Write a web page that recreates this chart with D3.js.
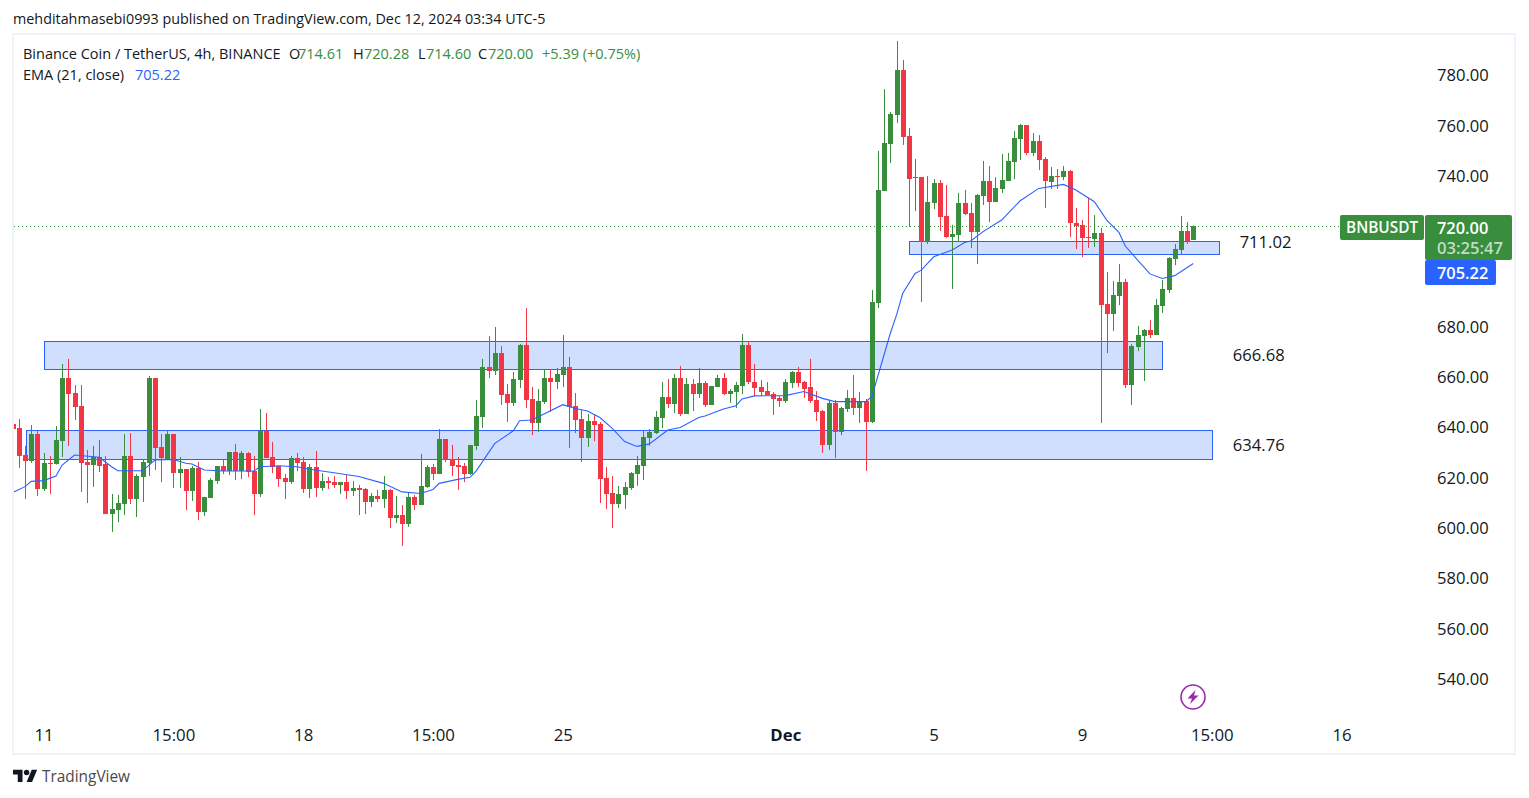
<!DOCTYPE html>
<html>
<head>
<meta charset="utf-8">
<script src="https://cdn.jsdelivr.net/npm/d3@7"></script>
<style>
  html, body { margin: 0; padding: 0; background: #fff; overflow: hidden; }
  text { font-family: "Open Sans", sans-serif; }
</style>
</head>
<body>
<svg id="chart" width="1529" height="798"></svg>
<script>
// candles, oldest first, 4h bars
const opens = [
  641.4,639.8,629.1,626.7,637.4,615.6,625.9,625.5,634.7,659.7,653.7,648.6,
  626.3,625.1,628.3,625.5,605.6,607.2,609.6,628.7,611.6,620.3,625.9,659.7,
  632.3,627.5,637.4,621.9,623.5,614.8,623.9,606.4,612.0,618.7,624.7,622.7,
  630.3,622.7,629.9,622.7,613.6,638.6,628.3,624.7,619.9,618.3,627.9,626.3,
  615.6,624.3,616.0,618.7,618.3,617.2,618.3,614.8,616.0,615.6,610.4,612.8,
  611.6,615.2,604.0,605.2,601.6,612.4,609.2,616.4,624.3,621.5,635.4,627.5,
  625.1,624.7,621.5,632.7,644.2,664.1,662.5,669.6,653.3,649.8,658.9,672.8,
  651.4,641.8,650.2,659.7,658.1,660.9,664.1,648.6,643.4,635.8,642.6,641.4,
  619.9,614.0,609.6,613.2,616.0,621.5,624.7,635.8,637.8,643.8,652.1,649.4,
  659.7,645.4,657.3,653.3,657.7,649.0,656.1,659.7,653.3,654.1,656.5,672.8,
  658.1,656.1,654.5,653.3,651.8,650.6,657.7,662.1,658.1,656.1,651.0,646.6,
  633.1,649.8,638.2,647.4,651.8,647.8,650.6,642.2,689.5,734.1,752.8,764.3,
  782.2,755.9,739.2,739.6,713.8,729.3,737.3,724.1,715.8,716.6,729.3,725.3,
  717.8,732.1,738.0,729.7,734.9,738.0,745.6,754.8,760.3,749.2,754.0,746.8,
  737.7,740.0,739.6,742.0,721.3,720.5,715.8,715.0,717.4,689.1,685.2,692.3,
  697.9,656.9,672.0,676.4,678.8,676.8,688.3,694.7,707.0,710.6,718.2,714.61
];
const highs = [
  642.6,643.4,632.7,641.0,638.6,629.9,628.7,640.6,665.3,667.3,656.9,656.9,
  631.1,632.7,635.1,628.7,613.6,613.2,637.4,637.8,621.5,627.1,660.5,659.7,
  637.4,639.0,637.4,628.3,623.5,624.7,626.3,612.4,619.9,624.7,627.1,630.3,
  633.5,630.7,630.3,628.7,647.4,645.8,634.3,624.7,621.5,628.7,629.9,628.3,
  625.5,630.7,621.9,620.3,620.7,618.3,621.1,618.7,617.2,616.0,614.0,615.2,
  620.7,615.6,612.8,609.2,614.0,613.2,629.5,625.1,625.5,639.4,635.4,633.1,
  628.3,625.9,633.1,651.0,667.3,676.4,680.0,672.4,657.3,662.1,673.2,687.5,
  656.1,655.3,663.3,663.3,663.7,676.8,668.1,653.7,647.0,645.4,645.0,642.2,
  624.3,620.7,616.8,618.3,622.3,628.7,639.0,639.4,646.6,658.1,659.3,661.3,
  664.5,659.7,659.3,663.7,658.5,656.5,660.9,661.7,655.3,658.1,677.2,674.4,
  665.3,658.9,658.1,654.1,652.5,659.3,662.5,664.1,658.5,667.3,654.5,647.0,
  651.0,651.0,648.2,654.9,660.9,654.1,651.4,694.7,750.0,774.6,765.5,793.7,
  786.2,759.1,746.8,739.6,740.0,738.8,738.4,736.5,720.6,733.3,734.5,729.3,
  732.9,746.0,744.0,739.6,748.8,749.2,757.9,760.7,760.3,757.1,756.3,747.6,
  743.6,742.8,744.0,742.4,727.3,722.5,731.3,724.5,719.4,701.9,698.3,705.0,
  699.1,673.2,680.4,679.2,682.8,691.1,698.7,707.8,713.0,724.1,721.7,720.28
];
const lows = [
  631.1,623.9,611.6,625.9,612.8,614.8,613.6,625.3,628.3,632.7,643.0,614.4,
  610.0,616.4,622.3,605.6,598.5,602.4,605.2,609.6,604.4,610.4,620.7,623.1,
  618.3,627.1,616.0,616.0,607.2,610.8,603.2,604.8,612.0,617.6,621.5,621.1,
  619.1,619.5,620.3,605.2,612.4,627.9,621.9,616.4,611.6,617.6,622.7,614.0,
  612.0,612.4,614.8,615.6,616.0,613.6,611.6,612.8,605.2,605.6,608.4,610.4,
  608.0,600.1,602.0,592.9,600.5,607.2,609.2,616.0,619.1,621.5,626.3,620.7,
  615.2,618.3,621.1,631.1,639.8,659.7,660.9,649.0,642.2,648.6,655.7,647.8,
  637.0,638.2,649.4,646.2,655.3,656.1,631.9,637.8,626.3,632.3,634.6,610.0,
  607.6,600.0,608.0,607.6,615.2,616.8,619.1,632.7,637.4,639.8,647.8,645.8,
  644.6,645.4,646.6,651.8,648.2,649.0,656.1,652.9,649.8,647.8,653.3,657.3,
  652.5,652.5,652.9,645.0,648.2,649.8,655.7,656.1,651.8,649.8,642.6,629.9,
  631.1,627.9,637.0,646.2,645.0,641.8,622.7,641.8,687.5,734.1,745.2,761.1,
  752.4,719.8,726.1,689.9,713.0,726.9,718.2,715.4,695.1,713.8,724.5,711.4,
  705.0,728.5,721.7,729.7,733.3,738.0,738.8,746.4,748.4,748.0,742.4,727.3,
  734.9,734.9,738.4,715.8,711.0,707.8,711.4,711.8,641.8,669.6,678.4,688.7,
  655.7,649.0,670.4,658.5,675.6,676.8,685.6,693.5,704.6,708.6,713.0,714.60
];
const closes = [
  639.4,628.7,626.7,637.4,615.6,625.9,625.5,635.1,659.7,653.3,648.2,625.9,
  625.1,628.3,624.7,605.6,607.6,610.0,628.7,611.6,620.7,626.3,659.7,631.9,
  627.9,637.4,621.9,623.5,614.8,623.9,606.4,612.4,619.1,624.7,622.7,630.3,
  622.7,629.9,622.3,613.6,638.6,627.9,624.3,619.5,618.3,627.9,625.9,615.6,
  624.3,616.0,618.7,617.9,617.2,618.3,614.8,616.0,615.2,610.4,612.8,611.6,
  615.2,604.0,605.2,601.6,612.4,609.2,616.8,624.3,621.5,635.4,627.1,624.7,
  624.3,621.5,633.1,644.6,664.1,662.5,669.6,652.9,649.8,659.3,672.8,651.0,
  641.8,650.6,659.7,658.1,661.3,664.1,648.2,643.0,635.8,642.6,641.0,619.5,
  613.6,609.6,613.6,616.4,621.9,625.1,636.2,638.2,644.2,652.1,649.4,659.7,
  645.4,657.3,653.3,657.7,649.0,656.5,659.7,653.3,654.5,656.9,672.8,658.1,
  655.7,654.1,652.9,651.4,650.6,658.1,662.1,657.7,655.3,650.6,646.2,633.1,
  649.8,638.2,647.8,651.8,647.8,650.6,642.2,689.9,734.5,753.2,764.7,782.2,
  755.6,738.8,739.6,713.8,729.7,737.3,723.7,715.8,717.0,729.3,724.9,717.8,
  732.5,738.0,729.7,735.3,738.4,746.0,755.1,760.3,749.2,754.0,746.4,738.0,
  740.0,739.6,742.0,721.3,720.2,715.4,715.4,717.4,688.7,685.2,692.7,697.9,
  656.9,672.4,676.8,678.8,676.8,688.7,695.1,707.4,711.0,718.2,714.2,720.00
];

// EMA(21), bar number + value
const emaBars = [0,2,3,5,7,8,10,14,16,17,21,23,26,28,29,31,34,39,40,43,46,48,52,56,60,63,66,68,69,72,74,75,
  78,81,82,84,89,91,93,95,97,99,101,103,106,108,111,112,115,117,118,120,125,128,131,133,138,139,142,143,144,146,147,
  149,152,154,155,157,160,163,166,170,172,175,177,179,180,182,184,186,188,191];
const emaValues = [614.2,616.5,618.6,618.9,620.7,625.1,629.1,628.2,624.4,622.8,622.8,627.1,627.3,625.8,625.5,623.1,622.7,622.7,624.4,624.8,624.4,623.4,622.0,620.5,617.8,614.4,613.8,615.4,617.8,619.4,620.2,622.8,
  633.7,638.7,642.7,643.0,649.1,647.6,646.6,644.0,639.7,634.4,632.5,633.5,639.0,640.0,644.0,644.6,647.4,648.7,651.4,652.6,652.7,654.3,651.6,650.3,650.3,652.3,677.6,684.8,693.4,701.3,702.6,
  707.9,710.6,713.6,714.2,717.9,722.5,730.2,735.1,736.7,734.5,729.8,722.5,717.5,712.2,706.6,701.1,699.3,700.4,705.22];

// 700 and 720 sit behind the price tags in the reference, so they are left out
const priceTicks = [540,560,580,600,620,640,660,680,740,760,780];
const timeTickBars = [5,26,47,68,89,125,149,173,194,215];
const timeTickLabels = ["11","15:00","18","15:00","25","Dec","5","9","15:00","16"];

const zoneTops = [714.2,674.3,638.9];
const zoneBottoms = [709.0,663.2,627.4];
const zoneStartBars = [145,5.1,2.2];
const zoneEndBars = [195.1,186,194];
const zoneLabels = ["711.02","666.68","634.76"];
const zoneLabelBars = [198.5,197.4,197.4];
const zoneLabelPrices = [713.8,668.9,633.0];

const lastPrice = 720.00;
const lastEma = 705.22;

const upColor = "#388e3c";
const downColor = "#f23645";
const emaColor = "#2962ff";
const frameColor = "#f0f3fa";
const textColor = "#131722";

const svg = d3.select("#chart");

let x = d3.scaleLinear().domain([0, 215]).range([12.7, 12.7 + 215 * 6.181]);
let y = d3.scaleLinear().domain([540, 780]).range([679, 75.5]);

// frame round the pane
svg.append("rect")
  .attr("x", 13).attr("y", 34).attr("width", 1502).attr("height", 720)
  .attr("fill", "#fff").attr("stroke", frameColor).attr("stroke-width", 2);

svg.append("defs").append("clipPath").attr("id", "pane")
  .append("rect").attr("x", 14).attr("y", 35).attr("width", 1500).attr("height", 718);

let pane = svg.append("g").attr("clip-path", "url(#pane)");

// zones sit under the candles
pane.selectAll(".zone")
  .data(zoneTops)
  .join("rect")
  .attr("class", "zone")
  .attr("x", (d, i) => Math.round(x(zoneStartBars[i])) + 0.5)
  .attr("y", d => Math.round(y(d)) + 0.5)
  .attr("width", (d, i) => Math.round(x(zoneEndBars[i]) - x(zoneStartBars[i])))
  .attr("height", (d, i) => Math.round(y(zoneBottoms[i]) - y(d)))
  .attr("fill", "#d1dfff")
  .attr("stroke", emaColor)
  .attr("stroke-width", 1);

// last price line
pane.append("line")
  .attr("x1", 14).attr("x2", 1340)
  .attr("y1", Math.round(y(lastPrice)) + 0.5).attr("y2", Math.round(y(lastPrice)) + 0.5)
  .attr("stroke", upColor)
  .attr("stroke-dasharray", "1 3");

let candle = pane.selectAll(".candle")
  .data(opens)
  .join("g")
  .attr("class", "candle")
  .attr("fill", (d, i) => closes[i] >= d ? upColor : downColor);

candle.append("rect")
  .attr("x", (d, i) => Math.round(x(i)))
  .attr("width", 1)
  .attr("y", (d, i) => y(highs[i]))
  .attr("height", (d, i) => y(lows[i]) - y(highs[i]));

candle.append("rect")
  .attr("x", (d, i) => Math.round(x(i)) - 2)
  .attr("width", 5)
  .attr("y", (d, i) => Math.round(y(Math.max(d, closes[i]))))
  .attr("height", (d, i) => Math.max(1, Math.round(Math.abs(y(d) - y(closes[i])))));

let emaLine = d3.line()
  .x(d => x(d))
  .y((d, i) => y(emaValues[i]));

pane.append("path")
  .attr("d", emaLine(emaBars))
  .attr("fill", "none")
  .attr("stroke", emaColor)
  .attr("stroke-width", 1.1);

// zone price labels
svg.selectAll(".zoneLabel")
  .data(zoneLabels)
  .join("text")
  .attr("class", "zoneLabel")
  .attr("x", (d, i) => x(zoneLabelBars[i]))
  .attr("y", (d, i) => y(zoneLabelPrices[i]))
  .attr("dy", ".35em")
  .attr("font-size", 16.6)
  .attr("fill", textColor)
  .text(d => d);

// axes
let priceAxis = d3.axisRight(y).tickValues(priceTicks).tickSize(0).tickFormat(d3.format(".2f"));
let gy = svg.append("g").attr("transform", "translate(1437,0)").call(priceAxis);
gy.select(".domain").remove();
gy.selectAll("text").attr("x", 0).attr("font-size", 16.6).attr("fill", textColor).style("font-family", "'Open Sans', sans-serif");

let timeAxis = d3.axisBottom(x).tickValues(timeTickBars).tickSize(0)
  .tickFormat((d, i) => timeTickLabels[i]);
let gx = svg.append("g").attr("transform", "translate(0,729)").call(timeAxis);
gx.select(".domain").remove();
gx.selectAll("text")
  .attr("y", 0).attr("dy", ".71em")
  .attr("font-size", 16.8).attr("fill", textColor)
  .style("font-family", "'Open Sans', sans-serif")
  .attr("font-weight", d => d == 125 ? "bold" : "normal");

// price tags on the right
function tag(px, py, w, h, fill) {
  svg.append("rect").attr("x", px).attr("y", py).attr("width", w).attr("height", h).attr("rx", 2).attr("fill", fill);
}
function tagText(px, py, str, color, size) {
  svg.append("text").attr("x", px).attr("y", py).attr("dy", ".35em")
    .attr("font-size", size).attr("font-weight", 600).attr("fill", color).text(str);
}
tag(1340, 215, 84, 25, upColor);
tagText(1346, 228, "BNBUSDT", "#fff", 15.4);
tag(1425, 215, 87, 45, upColor);
tagText(1437, 228, d3.format(".2f")(lastPrice), "#fff", 16.4);
tagText(1437, 248, "03:25:47", "#c4dcc6", 16.6);
tag(1425, 260, 71, 25, emaColor);
tagText(1437, 273, d3.format(".2f")(lastEma), "#fff", 16.4);

// header and legend
svg.append("text").attr("x", 13).attr("y", 19).attr("dy", ".35em")
  .attr("font-size", 14.35).attr("fill", textColor)
  .text("mehditahmasebi0993 published on TradingView.com, Dec 12, 2024 03:34 UTC-5");

let legend = svg.append("text").attr("y", 54).attr("dy", ".35em")
  .attr("font-size", 14.5).attr("fill", textColor);
legend.append("tspan").attr("x", 23).text("Binance Coin / TetherUS, 4h, BINANCE");
legend.append("tspan").attr("x", 289).text("O");
legend.append("tspan").attr("x", 298).attr("fill", upColor).text("714.61");
legend.append("tspan").attr("x", 353).text("H");
legend.append("tspan").attr("x", 364).attr("fill", upColor).text("720.28");
legend.append("tspan").attr("x", 418).text("L");
legend.append("tspan").attr("x", 426).attr("fill", upColor).text("714.60");
legend.append("tspan").attr("x", 478).text("C");
legend.append("tspan").attr("x", 488).attr("fill", upColor).text("720.00");
legend.append("tspan").attr("x", 542).attr("fill", upColor).text("+5.39 (+0.75%)");

let legend2 = svg.append("text").attr("y", 75).attr("dy", ".35em")
  .attr("font-size", 14.5).attr("fill", textColor);
legend2.append("tspan").attr("x", 23).text("EMA (21, close)");
legend2.append("tspan").attr("x", 135).attr("fill", emaColor).text(d3.format(".2f")(lastEma));

// flash icon
let bolt = svg.append("g").attr("transform", "translate(1193,697)");
bolt.append("circle").attr("r", 12).attr("fill", "#fff").attr("stroke", "#9c27b0").attr("stroke-width", 1.6);
bolt.append("path").attr("d", "M2.5 -7 L-5.5 1.5 L-1 1.5 L-3 7 L5.5 -1.5 L1 -1.5 Z").attr("fill", "#9c27b0");

// logo
let logo = svg.append("g").attr("transform", "translate(13,767) scale(0.68)").attr("fill", textColor);
logo.append("path").attr("d", "M14 22H7V11H0V4h14v18zM28 22h-8l7.5-18h8L28 22z");
logo.append("circle").attr("cx", 20).attr("cy", 8).attr("r", 4);
svg.append("text").attr("x", 42).attr("y", 777).attr("dy", ".35em")
  .attr("font-size", 15.4).attr("fill", "#4a4a4a").text("TradingView");
</script>
</body>
</html>
